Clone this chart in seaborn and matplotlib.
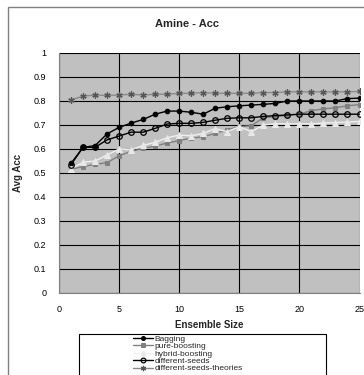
import matplotlib
matplotlib.use("Agg")
import matplotlib.pyplot as plt
import seaborn as sns
import pandas as pd
from matplotlib.patches import Rectangle

sizes = list(range(1, 26))
bagging = [0.54, 0.607, 0.614, 0.663, 0.69, 0.708, 0.723, 0.745, 0.758, 0.758, 0.753, 0.745, 0.77,
           0.776, 0.78, 0.783, 0.786, 0.79, 0.80, 0.80, 0.80, 0.80, 0.80, 0.81, 0.812]
pure_boosting = [0.515, 0.527, 0.536, 0.543, 0.572, 0.59, 0.603, 0.612, 0.625, 0.635, 0.645, 0.651, 0.665,
                 0.68, 0.693, 0.697, 0.73, 0.735, 0.74, 0.745, 0.76, 0.767, 0.772, 0.78, 0.785]
hybrid_boosting = [0.517, 0.545, 0.55, 0.575, 0.6, 0.596, 0.615, 0.628, 0.647, 0.658, 0.655, 0.665, 0.685,
                   0.672, 0.693, 0.672, 0.70, 0.705, 0.705, 0.705, 0.705, 0.708, 0.71, 0.712, 0.715]
different_seeds = [0.535, 0.607, 0.607, 0.638, 0.654, 0.67, 0.67, 0.686, 0.704, 0.707, 0.707, 0.711, 0.72,
                   0.728, 0.73, 0.73, 0.736, 0.739, 0.742, 0.745, 0.745, 0.745, 0.745, 0.745, 0.745]
different_seeds_theories = [0.805, 0.82, 0.825, 0.823, 0.825, 0.828, 0.825, 0.828, 0.828, 0.832, 0.832, 0.835,
                            0.832, 0.832, 0.832, 0.832, 0.835, 0.835, 0.838, 0.838, 0.838, 0.838, 0.838, 0.838, 0.84]
series_names = ["Bagging", "pure-boosting", "hybrid-boosting", "different-seeds", "different-seeds-theories"]
series_values = [bagging, pure_boosting, hybrid_boosting, different_seeds, different_seeds_theories]

rows = []
for name, vals in zip(series_names, series_values):
    for s, v in zip(sizes, vals):
        rows.append({"Ensemble Size": s, "Avg Acc": v, "series": name})
df = pd.DataFrame(rows)

styles = {
    "Bagging": dict(color="black", marker="o", markersize=3.3, markerfacecolor="black", markeredgecolor="black"),
    "pure-boosting": dict(color="#808080", marker="s", markersize=3.3, markerfacecolor="#808080", markeredgecolor="#808080"),
    "hybrid-boosting": dict(color="#f0f0f0", marker="^", markersize=4, markerfacecolor="#e8e8e8", markeredgecolor="#e8e8e8"),
    "different-seeds": dict(color="black", marker="o", markersize=4, markerfacecolor="none", markeredgecolor="black", markeredgewidth=0.9),
    "different-seeds-theories": dict(color="#8a8a8a", marker=(6, 2, 0), markersize=4.5, markerfacecolor="#555555", markeredgecolor="#555555", markeredgewidth=0.9),
}

sns.set_style("white")
plt.rcParams["font.family"] = ["Liberation Sans", "DejaVu Sans"]

W, H = 364, 375
fig = plt.figure(figsize=(W / 100, H / 100), dpi=100)
fig.patch.set_facecolor("white")

left, right, top, bottom = 59, 359.5, 53, 293
ax = fig.add_axes([left / W, 1 - bottom / H, (right - left) / W, (bottom - top) / H])
ax.set_facecolor("#c0c0c0")

for name in series_names:
    sub = df[df["series"] == name]
    sns.lineplot(data=sub, x="Ensemble Size", y="Avg Acc", ax=ax, label=name,
                 linewidth=1.0, legend=False, **styles[name])

ax.set_xlim(0, 25)
ax.set_ylim(0, 1)
ax.set_xticks([0, 5, 10, 15, 20, 25])
ax.set_yticks([0, 0.1, 0.2, 0.3, 0.4, 0.5, 0.6, 0.7, 0.8, 0.9, 1])
ax.set_yticklabels(["0", "0.1", "0.2", "0.3", "0.4", "0.5", "0.6", "0.7", "0.8", "0.9", "1"])
ax.grid(True, color="black", linewidth=0.8)
ax.set_axisbelow(True)
for sp in ax.spines.values():
    sp.set_visible(False)
ax.spines["left"].set_visible(True)
ax.spines["left"].set_color("#808080")
ax.spines["bottom"].set_visible(True)
ax.spines["bottom"].set_color("#808080")
ax.tick_params(axis="both", labelsize=6.5, colors="black", length=3, width=0.8, direction="out", pad=6)
ax.tick_params(axis="both", color="#808080")
ax.set_xlabel("Ensemble Size", fontsize=7, fontweight="bold", labelpad=4)
ax.set_ylabel("Avg Acc", fontsize=7, fontweight="bold", labelpad=8)

fig.text(187 / W, 1 - 24 / H, "Amine - Acc", ha="center", va="center", fontsize=8, fontweight="bold")

# outer chart border
fig.patches.append(Rectangle((8 / W, -0.1), 1.2, 1 - 7 / H + 0.1, transform=fig.transFigure,
                             fill=False, edgecolor="#808080", linewidth=1.0))
# legend box
fig.patches.append(Rectangle((79 / W, -0.1), (326 - 79) / W, 1 - 334 / H + 0.1, transform=fig.transFigure,
                             fill=False, edgecolor="black", linewidth=0.8))

handles, labels = ax.get_legend_handles_labels()
leg = fig.legend(handles, labels, loc="upper left", bbox_to_anchor=(133 / W, 1 - 335 / H),
                 frameon=False, fontsize=6.0, labelspacing=-0.05, handlelength=2.4, handletextpad=0.2,
                 borderaxespad=0, borderpad=0, markerscale=0.85)

fig.savefig("out.png", dpi=100)
